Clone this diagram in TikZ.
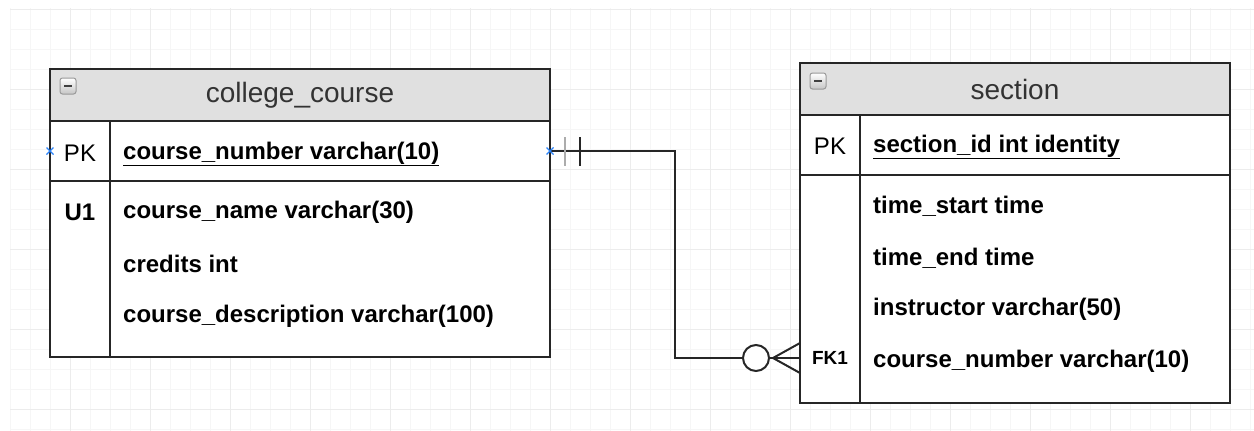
\documentclass[tikz,border=0pt]{standalone}
\usepackage{fontspec}
\setmainfont{Liberation Sans}
\usepackage{tikz}
\usetikzlibrary{positioning,calc}
\definecolor{hdrfill}{RGB}{224,224,224}
\definecolor{gridmin}{RGB}{246,246,246}
\definecolor{gridmaj}{RGB}{236,236,236}
\definecolor{pinblue}{RGB}{40,130,250}
\definecolor{edge}{RGB}{38,38,38}

\begin{document}
\begin{tikzpicture}[
  x=1pt, y=-1pt,
  tbl/.style={draw=edge,line width=2pt,fill=white,anchor=north west,inner sep=0pt,outer sep=0pt},
  hdr/.style={tbl,fill=hdrfill,minimum height=52pt,font=\fontsize{28}{32}\selectfont,text=black!80},
  keyc/.style={font=\fontsize{24}{28}\selectfont,inner sep=0pt,minimum width=60pt,outer sep=0pt},
  fld/.style={anchor=west,font=\fontsize{24}{28}\selectfont\bfseries,inner sep=0pt},
  mini/.style={draw=gray!80,line width=1pt,rounded corners=2.5pt,top color=white,bottom color=gray!45,minimum size=16pt,inner sep=0pt,
    path picture={\draw[line width=2pt,black!75] ([xshift=-4pt]path picture bounding box.center) -- ([xshift=4pt]path picture bounding box.center);}},
  rel/.style={draw=edge,line width=2pt},
  pin/.style={draw=pinblue,line width=1.2pt}
]
\useasboundingbox (0,0) rectangle (1254,431);
% background grid
\foreach \gx in {10,30,...,1250} \draw[gridmin,line width=1pt] (\gx,8) -- (\gx,431);
\foreach \gy in {9,29,...,429} \draw[gridmin,line width=1pt] (10,\gy) -- (1254,\gy);
\foreach \gx in {70,150,...,1230} \draw[gridmaj,line width=1pt] (\gx,8) -- (\gx,431);
\foreach \gy in {9,89,...,409} \draw[gridmaj,line width=1pt] (10,\gy) -- (1254,\gy);

% college_course table
\node[hdr,minimum width=500pt] (cchead) at (50,69) {college\_course};
\node[tbl,minimum width=500pt,minimum height=60pt,below=0pt of cchead] (ccpk) {};
\node[tbl,minimum width=500pt,minimum height=176pt,below=0pt of ccpk] (ccbody) {};
\draw[rel] ([xshift=60pt]ccpk.north west) -- ([xshift=60pt]ccbody.south west);
\node[mini] (ccmin) at (68,86) {};
\node[keyc] (cckpk) at (80,153) {PK};
\node[keyc,font=\fontsize{24}{28}\selectfont\bfseries] (cckuq) at (80,212) {U1};
\node[fld] (ccnum) at (123,154) {\underline{course\_number varchar(10)}};
\node[fld] (ccname) at (123,212) {course\_name varchar(30)};
\node[fld] (cccred) at (123,264) {credits int};
\node[fld] (ccdesc) at (123,316) {course\_description varchar(100)};

% section table
\node[hdr,minimum width=430pt] (sechead) at (800,63) {section};
\node[tbl,minimum width=430pt,minimum height=60pt,below=0pt of sechead] (secpk) {};
\node[tbl,minimum width=430pt,minimum height=228pt,below=0pt of secpk] (secbody) {};
\draw[rel] ([xshift=60pt]secpk.north west) -- ([xshift=60pt]secbody.south west);
\node[mini] (secmin) at (818,81) {};
\node[keyc] (seckpk) at (830,146) {PK};
\node[keyc,font=\fontsize{19}{23}\selectfont\bfseries] (secfk) at (830,358) {FK1};
\node[fld] (secid) at (873,147) {\underline{section\_id int identity}};
\node[fld] (secstart) at (873,206) {time\_start time};
\node[fld] (secend) at (873,258) {time\_end time};
\node[fld] (secinst) at (873,309) {instructor varchar(50)};
\node[fld] (secnum) at (873,361) {course\_number varchar(10)};

% relationship
\draw[rel] (ccpk.east) -| ($(ccpk.east)!.5!(secfk.west)$) |- (secfk.west);
\draw[rel,draw=gray!65,line width=2.5pt] ([xshift=15pt,yshift=14pt]ccpk.east) -- ([xshift=15pt,yshift=-15pt]ccpk.east);
\draw[rel] ([xshift=30pt,yshift=14pt]ccpk.east) -- ([xshift=30pt,yshift=-15pt]ccpk.east);
\draw[rel] ([yshift=15pt]secfk.west) -- ([xshift=-27pt]secfk.west) -- ([yshift=-15pt]secfk.west);
\draw[rel,fill=white] ([xshift=-44pt]secfk.west) circle (13pt);
\draw[pin] ([shift={(-3.5pt,-3.5pt)}]ccpk.east) -- ([shift={(3.5pt,3.5pt)}]ccpk.east)
  ([shift={(-3.5pt,3.5pt)}]ccpk.east) -- ([shift={(3.5pt,-3.5pt)}]ccpk.east);
\draw[pin] ([shift={(-3.5pt,-3.5pt)}]ccpk.west) -- ([shift={(3.5pt,3.5pt)}]ccpk.west)
  ([shift={(-3.5pt,3.5pt)}]ccpk.west) -- ([shift={(3.5pt,-3.5pt)}]ccpk.west);
\end{tikzpicture}
\end{document}
